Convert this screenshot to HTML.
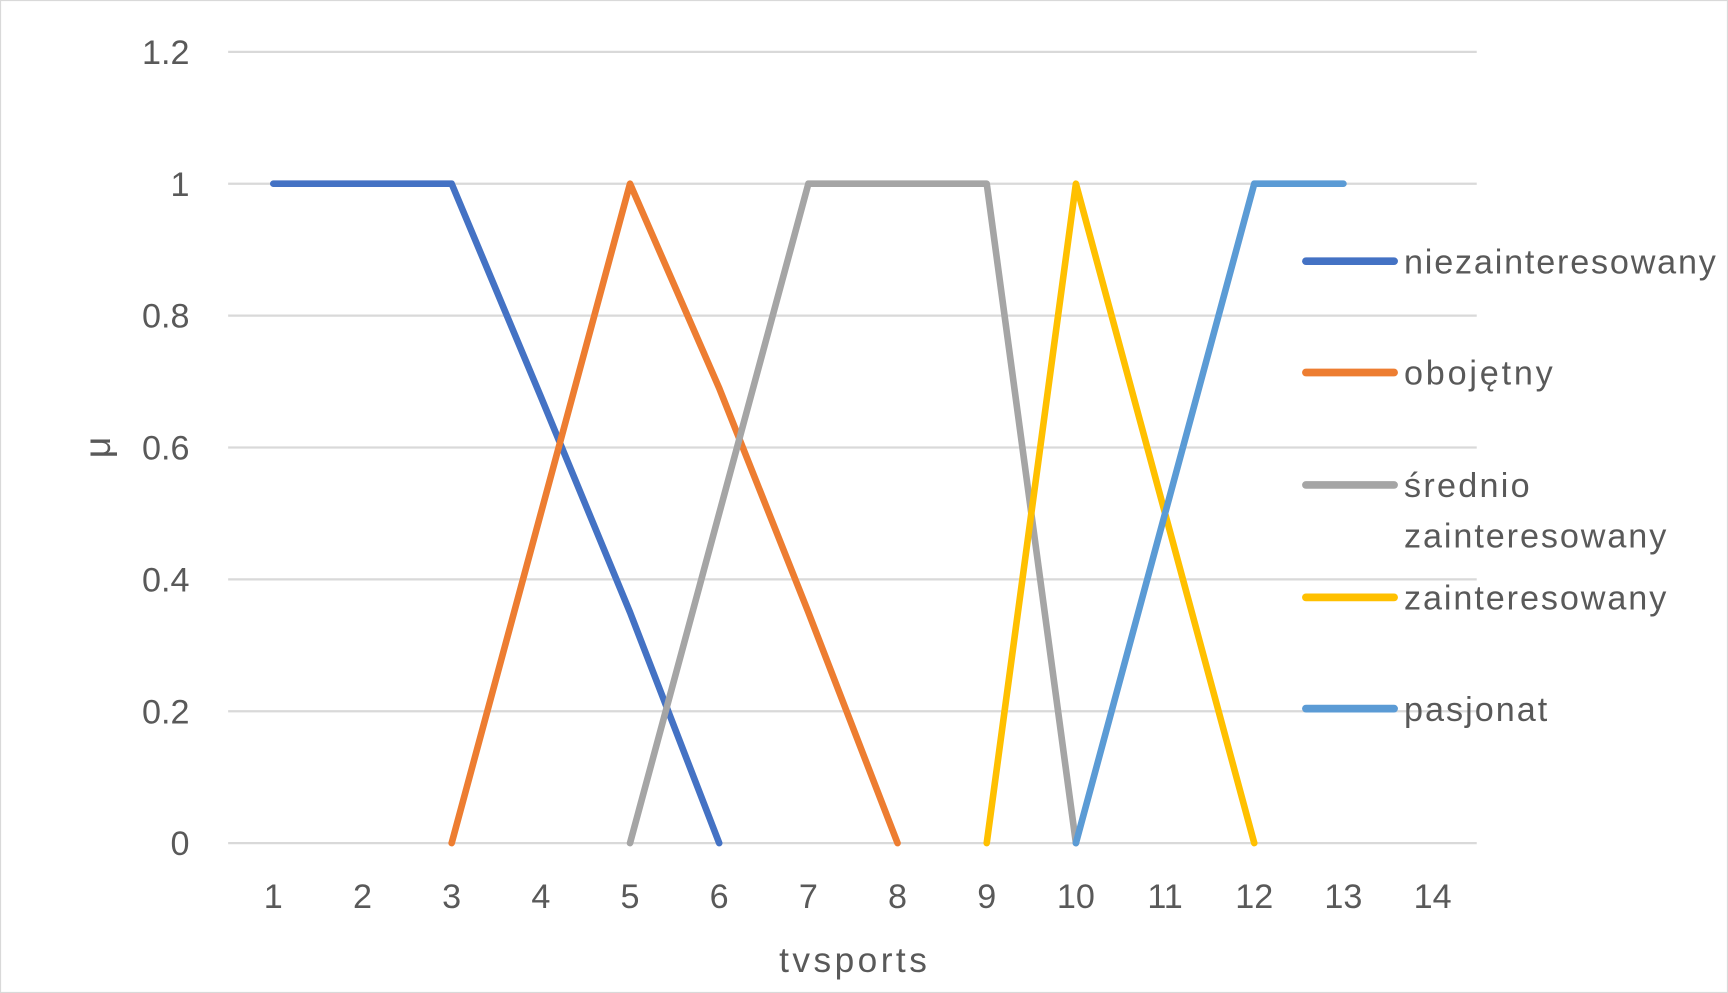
<!DOCTYPE html>
<html><head><meta charset="utf-8"><style>
html,body{margin:0;padding:0;background:#fff;}
svg{display:block;font-family:"Liberation Sans",sans-serif;}
</style></head><body>
<svg id="chart" width="1728" height="993" viewBox="0 0 1568 901" preserveAspectRatio="none" xmlns="http://www.w3.org/2000/svg">
<rect x="0.5" y="0.5" width="1567" height="900" fill="#fff" stroke="#d9d9d9"/>
<g id="grid"></g><g id="series"></g><g id="legend"></g>
<text x="774" y="882" font-size="32" fill="#595959" text-anchor="middle" textLength="134">tvsports</text>
<text transform="translate(100,406) rotate(-90)" font-size="34" fill="#595959" text-anchor="middle">μ</text>
</svg>
<script>
const categories=[1,2,3,4,5,6,7,8,9,10,11,12,13,14];
const yTicks=[0,0.2,0.4,0.6,0.8,1,1.2];
const yTickLabels=["0","0.2","0.4","0.6","0.8","1","1.2"];
const seriesNames=["niezainteresowany","obojętny","średnio zainteresowany","zainteresowany","pasjonat"];
const sNiez=[1,1,1,0.677,0.35,0,null,null,null,null,null,null,null,null];
const sObo=[null,null,0,0.5,1,0.69,0.35,0,null,null,null,null,null,null];
const sSre=[null,null,null,null,0,0.5,1,1,1,0,null,null,null,null];
const sZai=[null,null,null,null,null,null,null,null,0,1,0.5,0,null,null];
const sPas=[null,null,null,null,null,null,null,null,null,0,0.5,1,1,null];
const colors=["#4472c4","#ed7d31","#a5a5a5","#ffc000","#5b9bd5"];
const NS="http://www.w3.org/2000/svg";
const x=i=>248+i*80.92, y=v=>765-v*598.3;
const grid=document.getElementById('grid'),ser=document.getElementById('series'),leg=document.getElementById('legend');
function mk(t,a,p){const e=document.createElementNS(NS,t);for(const k in a)e.setAttribute(k,a[k]);p.appendChild(e);return e;}
yTicks.forEach((v,i)=>{
 const l=mk('line',{x1:207,x2:1340,y1:y(v),y2:y(v),stroke:'#d9d9d9','stroke-width':2},grid);
 
 
 const t=mk('text',{x:172,y:y(v)+11,'font-size':31,fill:'#595959','text-anchor':'end'},grid);
 t.textContent=yTickLabels[i];
 
 
});
categories.forEach((c,i)=>{
 const t=mk('text',{x:x(i),y:824,'font-size':31,fill:'#595959','text-anchor':'middle'},grid);
 t.textContent=c;
 
 
});
[sNiez,sObo,sSre,sZai,sPas].forEach((s,k)=>{
 const pts=[];s.forEach((v,i)=>{if(v!==null)pts.push(x(i)+','+y(v));});
 const p=mk('polyline',{points:pts.join(' '),fill:'none',stroke:colors[k],'stroke-width':6,'stroke-linejoin':'round','stroke-linecap':'round'},ser);
 
 
});
const legY=[237,338,440,542,643];
const legLen=[283,135,0,238,130];
seriesNames.forEach((n,k)=>{
 const l=mk('line',{x1:1185,x2:1265,y1:legY[k],y2:legY[k],stroke:colors[k],'stroke-width':7,'stroke-linecap':'round'},leg);
 
 
 const t=mk('text',{x:1274,y:legY[k]+11,'font-size':31,fill:'#595959'},leg);
 
 
 if(k===2){const a=mk('tspan',{x:1274,textLength:114},t);a.textContent='średnio';const b=mk('tspan',{x:1274,dy:46,textLength:238},t);b.textContent='zainteresowany';}
 else {t.textContent=n;t.setAttribute('textLength',legLen[k]);}
});
</script>
</body></html>
